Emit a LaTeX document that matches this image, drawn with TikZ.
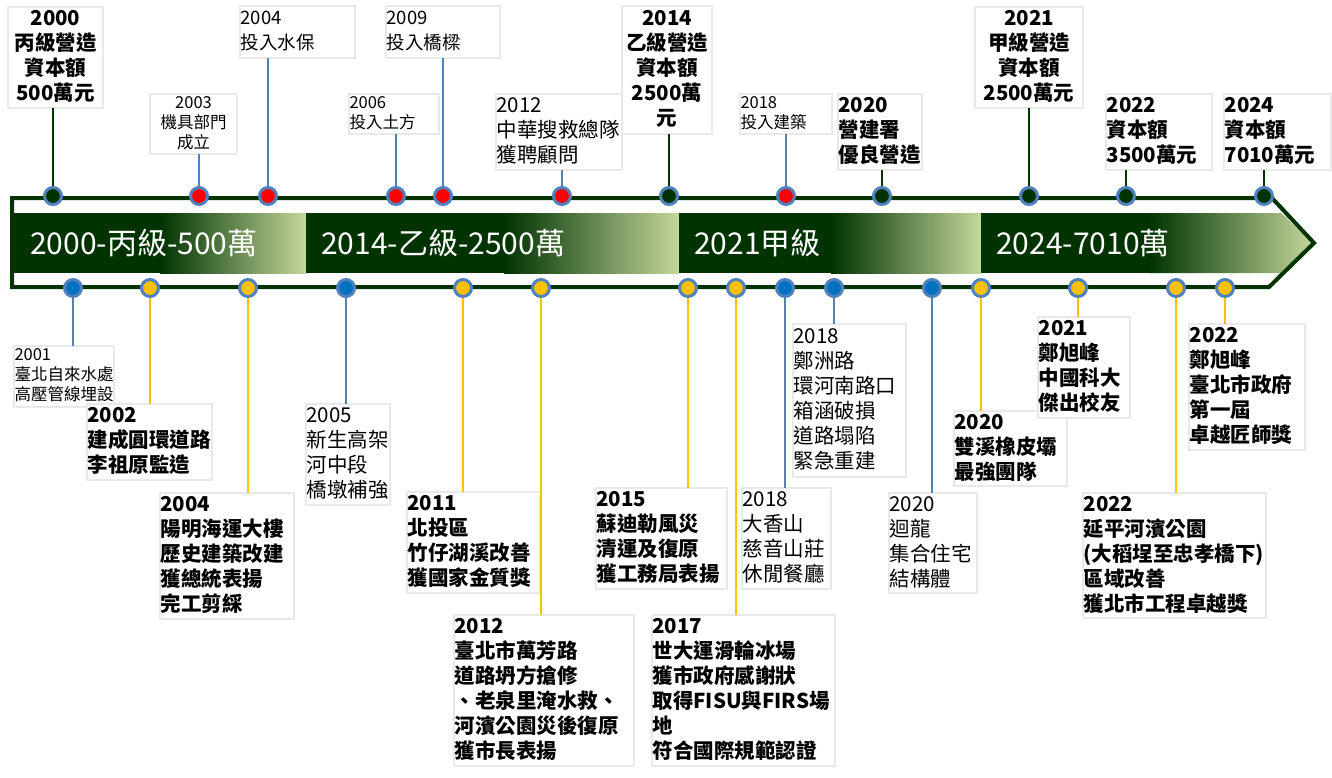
\documentclass[tikz,border=0pt]{standalone}
\usepackage{fontspec}
\setmainfont{Noto Sans CJK TC}
\definecolor{dk}{HTML}{003300}
\definecolor{lt}{HTML}{C4D79B}
\definecolor{ring}{HTML}{4F81BD}
\definecolor{bfill}{HTML}{0070C0}
\definecolor{rfill}{HTML}{FF0000}
\definecolor{yfill}{HTML}{FFC000}
\definecolor{boxline}{HTML}{E9E9E9}
\newcommand\Sa{\rule[-4.5pt]{0pt}{20.5pt}}
\newcommand\Sm{\rule[-5pt]{0pt}{20pt}}
\newcommand\Sb{\rule[-4pt]{0pt}{16pt}}
\tikzset{
  bx/.style={draw=boxline, line width=1.6pt, fill=white, anchor=north west,
    inner xsep=0.5pt, inner ysep=0pt, outer sep=0pt, align=left},
  bxc/.style={bx, align=center},
  geo/.style 2 args={minimum width=#1, text width=#1-1, minimum height=#2},
  fR/.style={font=\fontsize{20.5}{25}\selectfont, execute at begin node=\Sa, execute at end node=\Sa},
  fB/.style={font=\fontsize{20.5}{25}\selectfont\bfseries, execute at begin node=\Sa, execute at end node=\Sa},
  fM/.style={font=\fontsize{18.5}{25}\selectfont, execute at begin node=\Sm, execute at end node=\Sm},
  fS/.style={font=\fontsize{16.5}{20}\selectfont, execute at begin node=\Sb, execute at end node=\Sb},
  bandtxt/.style={anchor=west, text=white, inner sep=0pt, font=\fontsize{30}{31}\selectfont},
  dot/.style={circle, draw=ring, line width=3pt, minimum size=17pt, inner sep=0pt},
  lg/.style={draw=dk, line width=2pt},
  lb/.style={draw=ring, line width=2pt},
  ly/.style={draw=yfill, line width=2pt},
}
\begin{document}
\begin{tikzpicture}[x=1pt,y=-1pt]
\useasboundingbox (0,0) rectangle (1332,777);

% ---- band ----
\fill[dk] (14,213) rectangle (160,273);
\shade[left color=dk, right color=lt] (160,213) rectangle (306,273);
\fill[dk] (306,213) rectangle (504,273);
\shade[left color=dk, right color=lt] (504,213) rectangle (679,273);
\fill[dk] (679,213) rectangle (831,273);
\shade[left color=dk, right color=lt] (831,213) rectangle (981,273);
\fill[dk] (981,213) rectangle (1149,273);
\shade[left color=dk, right color=lt] (1149,213) -- (1281,213) -- (1313,243) -- (1281,273) -- (1149,273) -- cycle;
\draw[dk, line width=4pt] (12,198) -- (1272,198) -- (1314,243) -- (1269,287) -- (12,287) -- cycle;

\node[bandtxt] (g1) at (30,243) {2000-丙級-500萬};
\node[bandtxt] (g2) at (321,243) {2014-乙級-2500萬};
\node[bandtxt] (g3) at (694,243) {2021甲級};
\node[bandtxt] (g4) at (996,243) {2024-7010萬};

% ---- top boxes ----
\node[bxc,fB,geo={95}{101}] (t1) at (8,7) {2000\\丙級營造\\資本額\\500萬元};
\node[bxc,fS,geo={87}{60}] (t2) at (150,94) {2003\\機具部門\\成立};
\node[bx,fM,geo={115}{52}] (t3) at (240,6) {2004\\投入水保};
\node[bx,fS,geo={90}{40}] (t4) at (349,94) {2006\\投入土方};
\node[bx,fM,geo={114}{52}] (t5) at (386,6) {2009\\投入橋樑};
\node[bx,fR,geo={126}{76}] (t6) at (496,94) {2012\\中華搜救總隊\\獲聘顧問};
\node[bxc,fB,geo={90}{128}] (t7) at (622,6) {2014\\乙級營造\\資本額\\2500萬\\元};
\node[bx,fS,geo={92}{40}] (t8) at (740,94) {2018\\投入建築};
\node[bx,fB,geo={84}{76}] (t9) at (838,94) {2020\\營建署\\優良營造};
\node[bxc,fB,geo={108}{101}] (t10) at (975,7) {2021\\甲級營造\\資本額\\2500萬元};
\node[bx,fB,geo={106}{76}] (t11) at (1106,94) {2022\\資本額\\3500萬元};
\node[bx,fB,geo={107}{76}] (t12) at (1224,94) {2024\\資本額\\7010萬元};

% ---- bottom boxes ----
\node[bx,fS,geo={100}{61}] (b1) at (14,346) {2001\\臺北自來水處\\高壓管線埋設};
\node[bx,fB,geo={125}{76}] (b2) at (87,404) {2002\\建成圓環道路\\李祖原監造};
\node[bx,fB,geo={134}{126}] (b3) at (160,493) {2004\\陽明海運大樓\\歷史建築改建\\獲總統表揚\\完工剪綵};
\node[bx,fR,geo={84}{101}] (b4) at (306,404) {2005\\新生高架\\河中段\\橋墩補強};
\node[bx,fB,geo={133}{101}] (b5) at (407,492) {2011\\北投區\\竹仔湖溪改善\\獲國家金質獎};
\node[bx,fB,geo={180}{151}] (b6) at (454,615) {2012\\臺北市萬芳路\\道路坍方搶修\\、老泉里淹水救、\\河濱公園災後復原\\獲市長表揚};
\node[bx,fB,geo={131}{101}] (b7) at (596,488) {2015\\蘇迪勒風災\\清運及復原\\獲工務局表揚};
\node[bx,fB,geo={183}{151}] (b8) at (652,615) {2017\\世大運滑輪冰場\\獲市政府感謝狀\\取得FISU與FIRS場\\地\\符合國際規範認證};
\node[bx,fR,geo={89}{101}] (b9) at (742,488) {2018\\大香山\\慈音山莊\\休閒餐廳};
\node[bx,fR,geo={113}{153}] (b10) at (793,324) {2018\\鄭洲路\\環河南路口\\箱涵破損\\道路塌陷\\緊急重建};
\node[bx,fR,geo={88}{100}] (b11) at (889,493) {2020\\迴龍\\集合住宅\\結構體};
\node[bx,fB,geo={113}{75}] (b12) at (954,411) {2020\\雙溪橡皮壩\\最強團隊};
\node[bx,fB,geo={92}{101}] (b13) at (1038,317) {2021\\鄭旭峰\\中國科大\\傑出校友};
\node[bx,fB,geo={116}{126}] (b14) at (1189,324) {2022\\鄭旭峰\\臺北市政府\\第一屆\\卓越匠師獎};
\node[bx,fB,geo={183}{125}] (b15) at (1083,493) {2022\\延平河濱公園\\(大稻埕至忠孝橋下)\\區域改善\\獲北市工程卓越獎};

% ---- dot positions ----
\coordinate (c1) at (53,196);
\coordinate (c2) at (199,196);
\coordinate (c3) at (268,196);
\coordinate (c4) at (396,196);
\coordinate (c5) at (443,196);
\coordinate (c6) at (562,196);
\coordinate (c7) at (669,196);
\coordinate (c8) at (786,196);
\coordinate (c9) at (882,196);
\coordinate (c10) at (1029,196);
\coordinate (c11) at (1126,196);
\coordinate (c12) at (1264,196);

\coordinate (e1) at (73,288);
\coordinate (e2) at (150,288);
\coordinate (e3) at (248,288);
\coordinate (e4) at (346,288);
\coordinate (e5) at (463,288);
\coordinate (e6) at (541,288);
\coordinate (e7) at (688,288);
\coordinate (e8) at (736,288);
\coordinate (e9) at (785,288);
\coordinate (e10) at (834,288);
\coordinate (e11) at (932,288);
\coordinate (e12) at (981,288);
\coordinate (e13) at (1078,288);
\coordinate (e14) at (1176,288);
\coordinate (e15) at (1225,288);

% ---- connectors ----
\draw[lg] (c1) -- (c1 |- t1.south);
\draw[lb] (c2) -- (c2 |- t2.south);
\draw[lb] (c3) -- (c3 |- t3.south);
\draw[lb] (c4) -- (c4 |- t4.south);
\draw[lb] (c5) -- (c5 |- t5.south);
\draw[lb] (c6) -- (c6 |- t6.south);
\draw[lg] (c7) -- (c7 |- t7.south);
\draw[lb] (c8) -- (c8 |- t8.south);
\draw[lg] (c9) -- (c9 |- t9.south);
\draw[lg] (c10) -- (c10 |- t10.south);
\draw[lg] (c11) -- (c11 |- t11.south);
\draw[lg] (c12) -- (c12 |- t12.south);

\draw[lb] (e1) -- (e1 |- b1.north);
\draw[ly] (e2) -- (e2 |- b2.north);
\draw[ly] (e3) -- (e3 |- b3.north);
\draw[lb] (e4) -- (e4 |- b4.north);
\draw[ly] (e5) -- (e5 |- b5.north);
\draw[ly] (e6) -- (e6 |- b6.north);
\draw[ly] (e7) -- (e7 |- b7.north);
\draw[ly] (e8) -- (e8 |- b8.north);
\draw[lb] (e9) -- (e9 |- b9.north);
\draw[lb] (e10) -- (e10 |- b10.north);
\draw[lb] (e11) -- (e11 |- b11.north);
\draw[ly] (e12) -- (e12 |- b12.north);
\draw[ly] (e13) -- (e13 |- b13.north);
\draw[ly] (e14) -- (e14 |- b15.north);
\draw[ly] (e15) -- (e15 |- b14.north);

% ---- dots ----
\node[dot, fill=dk] (p1) at (c1) {};
\node[dot, fill=rfill] (p2) at (c2) {};
\node[dot, fill=rfill] (p3) at (c3) {};
\node[dot, fill=rfill] (p4) at (c4) {};
\node[dot, fill=rfill] (p5) at (c5) {};
\node[dot, fill=rfill] (p6) at (c6) {};
\node[dot, fill=dk] (p7) at (c7) {};
\node[dot, fill=rfill] (p8) at (c8) {};
\node[dot, fill=dk] (p9) at (c9) {};
\node[dot, fill=dk] (p10) at (c10) {};
\node[dot, fill=dk] (p11) at (c11) {};
\node[dot, fill=dk] (p12) at (c12) {};

\node[dot, fill=bfill] (q1) at (e1) {};
\node[dot, fill=yfill] (q2) at (e2) {};
\node[dot, fill=yfill] (q3) at (e3) {};
\node[dot, fill=bfill] (q4) at (e4) {};
\node[dot, fill=yfill] (q5) at (e5) {};
\node[dot, fill=yfill] (q6) at (e6) {};
\node[dot, fill=yfill] (q7) at (e7) {};
\node[dot, fill=yfill] (q8) at (e8) {};
\node[dot, fill=bfill] (q9) at (e9) {};
\node[dot, fill=bfill] (q10) at (e10) {};
\node[dot, fill=bfill] (q11) at (e11) {};
\node[dot, fill=yfill] (q12) at (e12) {};
\node[dot, fill=yfill] (q13) at (e13) {};
\node[dot, fill=yfill] (q14) at (e14) {};
\node[dot, fill=yfill] (q15) at (e15) {};
\end{tikzpicture}
\end{document}
